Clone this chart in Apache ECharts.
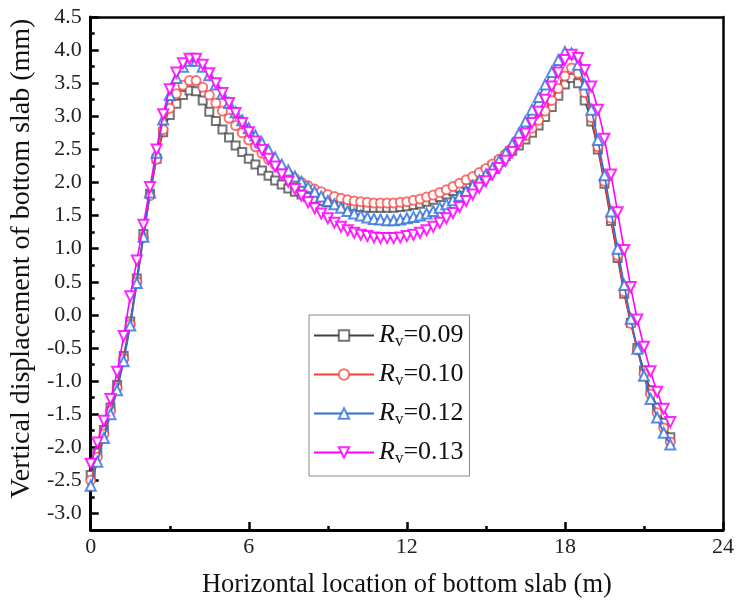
<!DOCTYPE html>
<html>
<head>
<meta charset="utf-8">
<script src="https://cdn.jsdelivr.net/npm/echarts@6/dist/echarts.min.js"></script>
<style>
html,body{margin:0;padding:0;background:#fff;}
#chart{width:737px;height:606px;}
</style>
</head>
<body>
<div id="chart"></div>
<script>
// Horizontal location (m)
const xLoc = [0,0.25,0.5,0.75,1,1.25,1.5,1.75,2,2.25,2.5,2.75,3,3.25,3.5,3.75,4,4.25,4.5,4.75,5,5.25,5.5,5.75,6,6.25,6.5,6.75,7,7.25,7.5,7.75,8,8.25,8.5,8.75,9,9.25,9.5,9.75,10,10.25,10.5,10.75,11,11.25,11.5,11.75,12,12.25,12.5,12.75,13,13.25,13.5,13.75,14,14.25,14.5,14.75,15,15.25,15.5,15.75,16,16.25,16.5,16.75,17,17.25,17.5,17.75,18,18.25,18.5,18.75,19,19.25,19.5,19.75,20,20.25,20.5,20.75,21,21.25,21.5,21.75,22];

const seriesNames = ['Rv=0.09','Rv=0.10','Rv=0.12','Rv=0.13'];

const rv009 = [-2.42,-2.08,-1.74,-1.40,-1.06,-0.62,-0.10,0.55,1.22,1.83,2.36,2.76,3.02,3.19,3.32,3.39,3.38,3.24,3.07,2.93,2.80,2.68,2.56,2.46,2.36,2.27,2.18,2.10,2.03,1.97,1.91,1.86,1.82,1.78,1.75,1.72,1.70,1.68,1.66,1.65,1.64,1.63,1.62,1.62,1.62,1.62,1.62,1.63,1.64,1.66,1.68,1.71,1.74,1.78,1.82,1.87,1.92,1.98,2.04,2.11,2.18,2.25,2.32,2.40,2.48,2.56,2.65,2.75,2.86,2.99,3.14,3.31,3.48,3.58,3.50,3.24,2.92,2.50,1.98,1.42,0.86,0.32,-0.12,-0.50,-0.84,-1.14,-1.40,-1.63,-1.85];

const rv010 = [-2.50,-2.15,-1.80,-1.45,-1.10,-0.66,-0.14,0.50,1.17,1.80,2.35,2.80,3.12,3.34,3.47,3.54,3.54,3.44,3.32,3.20,3.08,2.97,2.86,2.75,2.64,2.54,2.44,2.35,2.27,2.19,2.12,2.06,2.00,1.95,1.90,1.86,1.82,1.79,1.76,1.74,1.72,1.71,1.70,1.69,1.69,1.69,1.69,1.70,1.71,1.73,1.75,1.78,1.81,1.85,1.89,1.94,1.99,2.04,2.09,2.15,2.21,2.28,2.35,2.43,2.52,2.61,2.71,2.82,2.94,3.08,3.24,3.42,3.61,3.73,3.65,3.36,2.98,2.54,2.02,1.46,0.90,0.35,-0.13,-0.53,-0.89,-1.20,-1.48,-1.71,-1.92];

const rv012 = [-2.58,-2.22,-1.86,-1.50,-1.14,-0.70,-0.16,0.48,1.18,1.85,2.45,2.95,3.32,3.58,3.75,3.84,3.84,3.75,3.62,3.48,3.34,3.20,3.06,2.94,2.82,2.71,2.60,2.49,2.38,2.27,2.18,2.09,2.01,1.93,1.86,1.79,1.72,1.67,1.62,1.57,1.53,1.50,1.47,1.45,1.44,1.43,1.43,1.44,1.46,1.48,1.50,1.53,1.57,1.62,1.67,1.73,1.80,1.87,1.95,2.03,2.12,2.22,2.33,2.45,2.58,2.74,2.92,3.10,3.29,3.48,3.67,3.85,3.97,3.95,3.78,3.48,3.10,2.64,2.11,1.56,1.00,0.45,-0.06,-0.51,-0.92,-1.27,-1.55,-1.78,-1.96];

const rv013 = [-2.25,-1.93,-1.60,-1.27,-0.86,-0.32,0.28,0.82,1.36,1.93,2.50,3.03,3.41,3.66,3.80,3.87,3.87,3.78,3.65,3.50,3.35,3.20,3.05,2.90,2.76,2.62,2.49,2.36,2.24,2.12,2.01,1.90,1.80,1.70,1.61,1.53,1.46,1.39,1.33,1.28,1.24,1.21,1.19,1.17,1.16,1.16,1.16,1.17,1.19,1.21,1.24,1.28,1.33,1.39,1.46,1.54,1.63,1.72,1.82,1.92,2.02,2.12,2.22,2.33,2.46,2.60,2.74,2.90,3.07,3.25,3.45,3.66,3.85,3.93,3.88,3.70,3.45,3.10,2.66,2.12,1.55,0.98,0.42,-0.07,-0.48,-0.85,-1.16,-1.42,-1.62];

const yMajor = [-3,-2.5,-2,-1.5,-1,-0.5,0,0.5,1,1.5,2,2.5,3,3.5,4,4.5];
const yMinor = [-3.25,-2.75,-2.25,-1.75,-1.25,-0.75,-0.25,0.25,0.75,1.25,1.75,2.25,2.75,3.25,3.75,4.25];

const FONT = 'Liberation Serif';
const chart = echarts.init(document.getElementById('chart'), null, {renderer:'canvas'});

const styles = [
  {line:'#404040', mk:'rgba(70,70,70,0.75)', symbol:'emptyRect', size:8, rot:0},
  {line:'#F53C3C', mk:'rgba(245,70,70,0.75)', symbol:'emptyCircle', size:9, rot:0},
  {line:'#2E6FDB', mk:'rgba(46,111,219,0.8)', symbol:'emptyTriangle', size:10, rot:0},
  {line:'#FF00FF', mk:'rgba(255,0,255,0.85)', symbol:'emptyTriangle', size:10, rot:180}
];
const dataSets = [rv009, rv010, rv012, rv013];

const series = dataSets.map((arr, k) => ({
  name: seriesNames[k],
  type: 'line',
  xAxisIndex: 0,
  yAxisIndex: 0,
  data: xLoc.map((x, i) => [x, arr[i]]),
  symbol: styles[k].symbol,
  symbolSize: styles[k].size,
  symbolRotate: styles[k].rot,
  showAllSymbol: true,
  smooth: 0.2,
  lineStyle: {color: styles[k].line, width: 1.6},
  itemStyle: {color: styles[k].mk, borderColor: styles[k].mk, borderWidth: 1.2},
  emphasis: {disabled: true},
  animation: false,
  z: 2 + k
}));

const option = {
  animation: false,
  backgroundColor: '#fff',
  grid: {left: 89, right: 12, top: 17, bottom: 76, containLabel: false},
  legend: {
    show: true,
    orient: 'vertical',
    left: 309,
    top: 315,
    padding: [6, 6, 9, 4],
    itemWidth: 60,
    itemHeight: 13,
    itemGap: 10,
    borderColor: '#888',
    borderWidth: 1,
    data: seriesNames,
    formatter: function (name) {
      return '{i|R}{s|v}{n|=' + name.split('=')[1] + '}';
    },
    textStyle: {
      color: '#111',
      fontFamily: FONT,
      rich: {
        i: {fontFamily: FONT, fontStyle: 'italic', fontSize: 26, color: '#111', lineHeight: 26},
        s: {fontFamily: FONT, fontSize: 17, color: '#111', lineHeight: 26, padding: [12, 0, 0, 0]},
        n: {fontFamily: FONT, fontSize: 26, color: '#111', lineHeight: 26}
      }
    }
  },
  xAxis: [
    {
      type: 'value', min: 0, max: 24, interval: 6, position: 'bottom',
      name: 'Horizontal location of bottom slab (m)',
      nameLocation: 'middle', nameGap: 42,
      nameTextStyle: {fontFamily: FONT, fontSize: 26.5, color: '#111'},
      axisLine: {show: true, onZero: false, lineStyle: {color: '#000', width: 3}},
      axisTick: {show: true, inside: true, length: 8, lineStyle: {color: '#000', width: 2.5}},
      minorTick: {show: true, splitNumber: 2, length: 4, lineStyle: {color: '#000', width: 2.5}},
      axisLabel: {fontFamily: FONT, fontSize: 22, color: '#222', margin: 6},
      splitLine: {show: false}
    },
    {
      type: 'value', min: 0, max: 24, position: 'top',
      axisLine: {show: true, onZero: false, lineStyle: {color: '#000', width: 2.5}},
      axisTick: {show: false}, axisLabel: {show: false}, splitLine: {show: false}
    }
  ],
  yAxis: [
    {
      type: 'value', min: -3.25, max: 4.5, position: 'left',
      name: 'Vertical displacement of bottom slab (mm)',
      nameLocation: 'middle', nameGap: 48,
      nameTextStyle: {fontFamily: FONT, fontSize: 28, color: '#111', padding: [0, 0, 0, 30]},
      axisLine: {show: true, onZero: false, lineStyle: {color: '#000', width: 3}},
      axisTick: {show: true, inside: true, length: 8, customValues: yMajor, lineStyle: {color: '#000', width: 2.5}},
      axisLabel: {customValues: yMajor, formatter: v => v.toFixed(1), fontFamily: FONT, fontSize: 22, color: '#222', margin: 9},
      splitLine: {show: false}
    },
    {
      type: 'value', min: -3.25, max: 4.5, position: 'left',
      axisLine: {show: false},
      axisTick: {show: true, inside: true, length: 4, customValues: yMinor, lineStyle: {color: '#000', width: 2.5}},
      axisLabel: {show: false}, splitLine: {show: false}
    },
    {
      type: 'value', min: -3.25, max: 4.5, position: 'right',
      axisLine: {show: true, onZero: false, lineStyle: {color: '#000', width: 2.5}},
      axisTick: {show: false}, axisLabel: {show: false}, splitLine: {show: false}
    }
  ],
  series: series
};
chart.setOption(option);
</script>
</body>
</html>
